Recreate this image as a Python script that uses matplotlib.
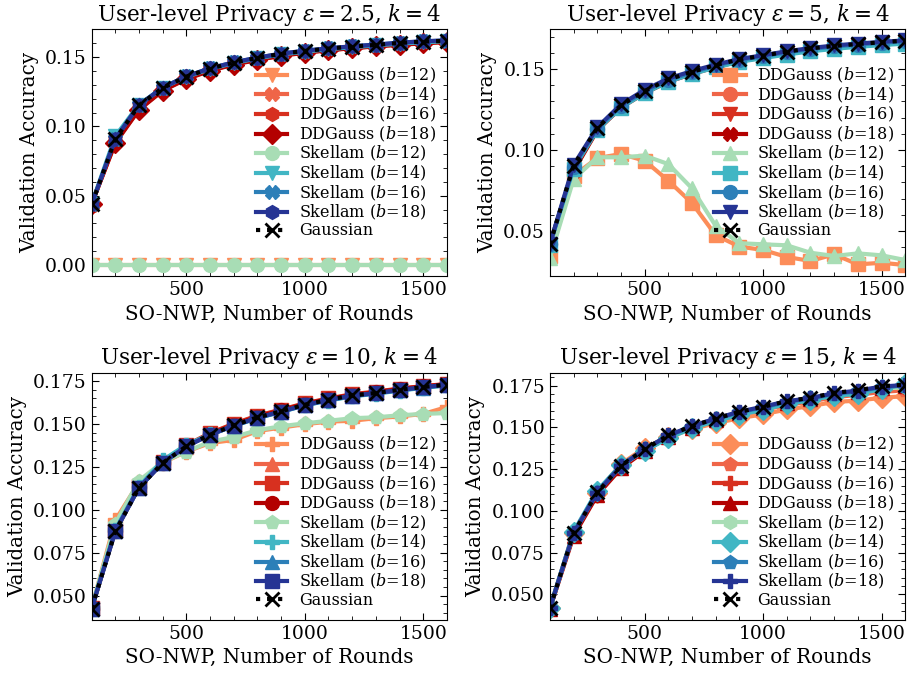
import matplotlib
matplotlib.use("Agg")
import matplotlib.pyplot as plt
from matplotlib.ticker import MultipleLocator, AutoMinorLocator

plt.rcParams['font.family'] = 'DejaVu Serif'
plt.rcParams['mathtext.fontset'] = 'dejavuserif'

rounds = [100, 200, 300, 400, 500, 600, 700, 800, 900, 1000, 1100, 1200, 1300, 1400, 1500, 1600]
bits = [12, 14, 16, 18]
epsilons = ['2.5', '5', '10', '15']

ddg_colors = ['#fc8d59', '#ef6548', '#d7301f', '#b30000']
sk_colors = ['#a8ddb5', '#41b6c4', '#2c7fb8', '#253494']

# eps = 2.5
gauss_25 = [0.0437, 0.0908, 0.1153, 0.1278, 0.1360, 0.1418, 0.1461, 0.1495, 0.1524, 0.1545, 0.1562, 0.1577, 0.1589, 0.1603, 0.1613, 0.1618]
ddg_25 = [
    [0.0, 0.0, 0.0, 0.0, 0.0, 0.0, 0.0, 0.0, 0.0, 0.0, 0.0, 0.0, 0.0, 0.0, 0.0, 0.0],
    [0.0435, 0.0900, 0.1145, 0.1272, 0.1355, 0.1413, 0.1456, 0.1490, 0.1518, 0.1540, 0.1557, 0.1572, 0.1585, 0.1598, 0.1608, 0.1615],
    [0.0440, 0.0885, 0.1125, 0.1262, 0.1345, 0.1405, 0.1450, 0.1482, 0.1512, 0.1535, 0.1552, 0.1566, 0.1580, 0.1592, 0.1600, 0.1610],
    [0.0442, 0.0880, 0.1120, 0.1258, 0.1342, 0.1402, 0.1447, 0.1480, 0.1510, 0.1532, 0.1550, 0.1565, 0.1578, 0.1590, 0.1600, 0.1612],
]
sk_25 = [
    [0.0, 0.0, 0.0, 0.0, 0.0, 0.0, 0.0, 0.0, 0.0, 0.0, 0.0, 0.0, 0.0, 0.0, 0.0, 0.0],
    [0.0440, 0.0930, 0.1158, 0.1280, 0.1358, 0.1415, 0.1458, 0.1492, 0.1520, 0.1540, 0.1558, 0.1572, 0.1585, 0.1598, 0.1608, 0.1615],
    [0.0438, 0.0912, 0.1155, 0.1280, 0.1362, 0.1420, 0.1462, 0.1496, 0.1525, 0.1546, 0.1563, 0.1578, 0.1590, 0.1604, 0.1614, 0.1620],
    [0.0437, 0.0910, 0.1155, 0.1280, 0.1362, 0.1420, 0.1463, 0.1497, 0.1526, 0.1547, 0.1564, 0.1579, 0.1591, 0.1605, 0.1615, 0.1622],
]

# eps = 5
gauss_5 = [0.0417, 0.0904, 0.1136, 0.1276, 0.1365, 0.1436, 0.1483, 0.1525, 0.1560, 0.1583, 0.1608, 0.1628, 0.1643, 0.1655, 0.1666, 0.1676]
ddg_5 = [
    [0.0345, 0.0841, 0.0950, 0.0975, 0.0934, 0.0810, 0.0672, 0.0473, 0.0403, 0.0382, 0.0339, 0.0314, 0.0355, 0.0293, 0.0303, 0.0289],
    [0.0420, 0.0880, 0.1128, 0.1268, 0.1358, 0.1428, 0.1476, 0.1518, 0.1552, 0.1575, 0.1600, 0.1620, 0.1635, 0.1647, 0.1658, 0.1668],
    [0.0422, 0.0878, 0.1125, 0.1265, 0.1356, 0.1426, 0.1474, 0.1516, 0.1550, 0.1574, 0.1598, 0.1618, 0.1633, 0.1645, 0.1656, 0.1666],
    [0.0420, 0.0870, 0.1122, 0.1262, 0.1352, 0.1422, 0.1470, 0.1512, 0.1548, 0.1572, 0.1596, 0.1616, 0.1632, 0.1644, 0.1655, 0.1665],
]
sk_5 = [
    [0.0334, 0.0820, 0.0955, 0.0955, 0.0965, 0.0913, 0.0763, 0.0531, 0.0424, 0.0417, 0.0411, 0.0365, 0.0345, 0.0361, 0.0349, 0.0320],
    [0.0415, 0.0885, 0.1125, 0.1262, 0.1352, 0.1422, 0.1470, 0.1510, 0.1545, 0.1568, 0.1590, 0.1610, 0.1625, 0.1638, 0.1648, 0.1658],
    [0.0418, 0.0895, 0.1132, 0.1272, 0.1362, 0.1432, 0.1480, 0.1522, 0.1556, 0.1580, 0.1604, 0.1624, 0.1640, 0.1652, 0.1663, 0.1672],
    [0.0420, 0.0908, 0.1140, 0.1282, 0.1372, 0.1442, 0.1488, 0.1528, 0.1562, 0.1586, 0.1610, 0.1630, 0.1646, 0.1658, 0.1668, 0.1678],
]

# eps = 10
gauss_10 = [0.0424, 0.0875, 0.1130, 0.1274, 0.1371, 0.1439, 0.1493, 0.1540, 0.1575, 0.1614, 0.1643, 0.1668, 0.1682, 0.1701, 0.1717, 0.1731]
ddg_10 = [
    [0.0425, 0.0940, 0.1160, 0.1275, 0.1340, 0.1390, 0.1408, 0.1460, 0.1480, 0.1500, 0.1515, 0.1520, 0.1535, 0.1545, 0.1560, 0.1600],
    [0.0426, 0.0890, 0.1135, 0.1278, 0.1375, 0.1445, 0.1500, 0.1548, 0.1582, 0.1620, 0.1648, 0.1672, 0.1688, 0.1706, 0.1720, 0.1733],
    [0.0425, 0.0885, 0.1138, 0.1280, 0.1378, 0.1448, 0.1503, 0.1550, 0.1585, 0.1622, 0.1650, 0.1675, 0.1690, 0.1708, 0.1722, 0.1735],
    [0.0424, 0.0878, 0.1132, 0.1276, 0.1373, 0.1442, 0.1497, 0.1544, 0.1580, 0.1618, 0.1646, 0.1671, 0.1686, 0.1705, 0.1720, 0.1733],
]
sk_10 = [
    [0.0430, 0.0920, 0.1170, 0.1280, 0.1340, 0.1398, 0.1425, 0.1465, 0.1488, 0.1505, 0.1520, 0.1535, 0.1540, 0.1552, 0.1560, 0.1565],
    [0.0426, 0.0885, 0.1135, 0.1290, 0.1380, 0.1440, 0.1490, 0.1536, 0.1572, 0.1610, 0.1638, 0.1662, 0.1678, 0.1696, 0.1712, 0.1726],
    [0.0424, 0.0878, 0.1130, 0.1276, 0.1372, 0.1438, 0.1490, 0.1536, 0.1572, 0.1610, 0.1640, 0.1664, 0.1680, 0.1698, 0.1714, 0.1728],
    [0.0424, 0.0875, 0.1130, 0.1274, 0.1370, 0.1438, 0.1492, 0.1538, 0.1574, 0.1612, 0.1642, 0.1666, 0.1681, 0.1700, 0.1716, 0.1730],
]

# eps = 15
gauss_15 = [0.0417, 0.0867, 0.1111, 0.1270, 0.1369, 0.1452, 0.1508, 0.1552, 0.1593, 0.1623, 0.1657, 0.1677, 0.1706, 0.1722, 0.1746, 0.1756]
ddg_15 = [
    [0.0420, 0.0870, 0.1110, 0.1280, 0.1378, 0.1442, 0.1490, 0.1525, 0.1555, 0.1578, 0.1607, 0.1627, 0.1652, 0.1660, 0.1677, 0.1687],
    [0.0418, 0.0875, 0.1105, 0.1275, 0.1372, 0.1448, 0.1500, 0.1540, 0.1578, 0.1605, 0.1635, 0.1655, 0.1680, 0.1695, 0.1712, 0.1722],
    [0.0416, 0.0860, 0.1100, 0.1262, 0.1362, 0.1445, 0.1502, 0.1548, 0.1585, 0.1615, 0.1645, 0.1668, 0.1695, 0.1712, 0.1730, 0.1740],
    [0.0415, 0.0850, 0.1095, 0.1255, 0.1358, 0.1442, 0.1498, 0.1545, 0.1583, 0.1613, 0.1648, 0.1668, 0.1698, 0.1712, 0.1736, 0.1746],
]
sk_15 = [
    [0.0418, 0.0865, 0.1112, 0.1268, 0.1365, 0.1445, 0.1500, 0.1545, 0.1582, 0.1612, 0.1645, 0.1665, 0.1692, 0.1708, 0.1730, 0.1740],
    [0.0420, 0.0875, 0.1122, 0.1275, 0.1360, 0.1435, 0.1495, 0.1538, 0.1575, 0.1605, 0.1640, 0.1662, 0.1690, 0.1700, 0.1730, 0.1760],
    [0.0418, 0.0868, 0.1115, 0.1272, 0.1370, 0.1450, 0.1505, 0.1550, 0.1590, 0.1620, 0.1652, 0.1673, 0.1700, 0.1716, 0.1740, 0.1750],
    [0.0417, 0.0866, 0.1110, 0.1268, 0.1368, 0.1452, 0.1508, 0.1553, 0.1594, 0.1624, 0.1656, 0.1676, 0.1704, 0.1720, 0.1744, 0.1754],
]

gauss_all = [gauss_25, gauss_5, gauss_10, gauss_15]
ddg_all = [ddg_25, ddg_5, ddg_10, ddg_15]
sk_all = [sk_25, sk_5, sk_10, sk_15]

ddg_markers = [['v', 'X', 'h', 'D'], ['s', 'o', 'v', 'X'], ['P', '^', 's', 'o'], ['D', 'p', 'P', '^']]
sk_markers = [['o', 'v', 'X', 'h'], ['^', 's', 'o', 'v'], ['p', 'P', '^', 's'], ['h', 'D', 'p', 'P']]
legend_locs = ['center right', 'center right', 'lower right', 'lower right']

fig, axes = plt.subplots(2, 2, figsize=(9.07, 6.76), dpi=100)
fig.subplots_adjust(left=0.101, right=0.998, top=0.957, bottom=0.083, wspace=0.29, hspace=0.39)

for i, ax in enumerate(axes.flat):
    for j, b in enumerate(bits):
        ax.plot(rounds, ddg_all[i][j], color=ddg_colors[j], marker=ddg_markers[i][j],
                lw=3, ms=10, label=r'DDGauss ($b$=%d)' % b)
    for j, b in enumerate(bits):
        ax.plot(rounds, sk_all[i][j], color=sk_colors[j], marker=sk_markers[i][j],
                lw=3, ms=10, label=r'Skellam ($b$=%d)' % b)
    ax.plot(rounds, gauss_all[i], 'k:', marker='x', lw=3, ms=10, mew=2, label='Gaussian')

    ax.set_xlim(100, 1600)
    ax.xaxis.set_major_locator(MultipleLocator(500))
    ax.xaxis.set_minor_locator(MultipleLocator(100))
    ax.yaxis.set_minor_locator(AutoMinorLocator())
    ax.tick_params(which='both', direction='in', top=True, right=True, labelsize=13.5)
    ax.tick_params(which='major', length=5)
    ax.tick_params(which='minor', length=3)
    ax.set_xlabel('SO-NWP, Number of Rounds', fontsize=14.3)
    ax.set_ylabel('Validation Accuracy', fontsize=14.3)
    ax.set_title(r'User-level Privacy $\varepsilon = %s$, $k = 4$' % epsilons[i], fontsize=15.5)
    ax.legend(loc=legend_locs[i], frameon=False, fontsize=11.5, handlelength=2.0,
              handletextpad=0.7, labelspacing=0.02, borderaxespad=0.3)

fig.savefig('out.png', dpi=100)
